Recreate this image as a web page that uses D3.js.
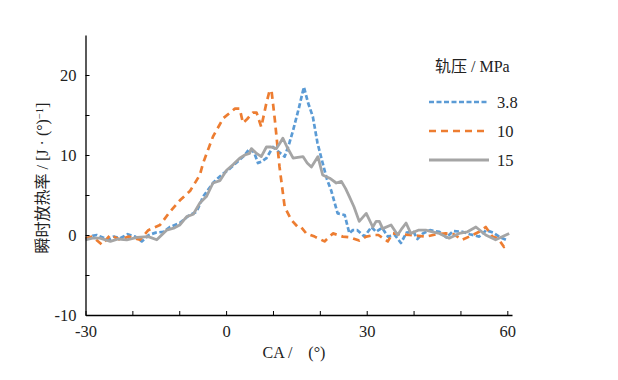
<!DOCTYPE html>
<html><head><meta charset="utf-8">
<script src="https://cdn.jsdelivr.net/npm/d3@7"></script>
<style>
html,body{margin:0;padding:0;background:#fff;}
text{font-family:"Liberation Serif","Times New Roman","Noto Sans CJK SC",serif;fill:#222;}
</style></head>
<body><svg id="c" width="618" height="380"></svg>
<script>
// ---- data ----
const xTickLabels = [-30, 0, 30, 60];
const yTickLabels = [-10, 0, 10, 20];
const seriesNames = ["3.8", "10", "15"];

const ca38 = [-30,-28.5,-27.6,-25.1,-24,-22.6,-21,-19.4,-18,-16.5,-15,-13.4,-12,-9.9,-8,-6.3,-4.9,-2.8,-1,0.8,2.5,4,5,6,6.8,7.6,8.6,10,11,12.5,13.5,14.3,15.5,16.6,17.5,18.5,19.5,20.6,21.5,22.4,23.8,25.3,26.3,27,28,29.5,31,32,33.3,34.5,36,37.3,38.5,40,40.8,42,43.5,45.5,47,48.5,50.4,52,54,55.5,57,58.5,59.7];
const hr38 = [-0.5,-0.1,0,-0.6,-0.2,-0.4,0.1,-0.2,-0.8,0,0.3,0.4,1.0,1.5,2.4,2.9,4.8,6.5,7.5,8.3,9.2,10.0,10.8,10.3,9.0,9.2,9.6,11.0,10.5,9.8,11.5,13.1,15.8,18.5,16.5,14.8,11.5,9.0,7.0,5.6,2.7,2.5,0.2,0.6,0.6,-0.2,1.0,0.4,0.9,-0.2,0,-1.0,0.3,0.4,-0.5,0.2,0.6,0.4,-0.3,0.5,0.4,0.1,-0.2,0.6,0.3,-0.3,-0.6];

const ca10 = [-30,-28.5,-26.5,-24.7,-22.6,-20.8,-18.4,-16.6,-14.1,-12,-9.9,-7.7,-5.6,-4.9,-2.8,-0.6,1.9,2.9,3.6,4.5,5.7,6.5,7.5,8.6,9.3,9.7,10.4,11.4,12.5,13.9,15.3,16,17.1,18.9,21,22.8,24.9,26.5,28.4,29.9,31.6,32.5,34.5,35.5,37,39.1,41,42.6,45,46.9,48.5,50.4,52.6,54,55.4,56.8,58,59.3,60];
const hr10 = [-0.4,-0.2,-1.2,0,-0.6,-0.2,-0.6,0.6,1.25,2.9,4.3,5.5,7.5,9.0,12.3,14.6,15.8,15.8,14.0,14.5,15.3,15.3,13.5,16.5,18.1,18.0,14.4,8.5,3.5,1.9,1.0,1.0,0.2,-0.2,-0.8,0.2,-0.2,-0.3,-0.7,-0.2,0,0,-0.8,0.2,0.1,0,-0.1,-0.2,0.1,0.2,0.1,-0.6,0,0.4,1.0,-0.2,-0.4,-1.5,-1.0];

const ca15 = [-30,-28.5,-26.9,-24.7,-23,-21.2,-19,-16.6,-14.8,-12.7,-11,-9.9,-8.4,-7,-5.6,-4.2,-2.8,-1.3,0.1,1.5,2.9,4,5.0,5.4,6.5,7.5,8.6,9.6,10.7,11.5,12.1,13,14.3,15.3,16.4,17.3,18.2,19.6,20.6,22.1,23.5,24.6,25.5,26.3,27.3,28.4,29.9,31.3,32,32.7,33.4,35.2,36.6,37.5,38.4,39.4,41,42.6,44,45.5,47.6,49.7,51.5,53.3,55.4,57.5,59,60.4];
const hr15 = [-0.6,-0.4,-0.4,-0.8,-0.5,-0.6,-0.3,-0.2,-0.6,0.6,0.9,1.25,2.3,2.6,4.0,4.8,6.5,6.8,8.1,8.8,9.6,10.0,10.2,10.8,10.2,9.8,11.0,11.0,10.8,11.5,12.1,11.0,9.6,9.7,9.8,9.0,8.5,9.8,7.5,7.1,6.5,6.7,5.8,4.8,3.5,1.7,2.7,1.0,1.7,1.7,0.8,1.25,0,0.8,1.5,0.2,0.6,0.6,0.4,0.2,-0.4,0.2,0.4,1.0,0,-0.6,-0.2,0.2];

// ---- drawing ----
const svg = d3.select("#c");
const x = d3.scaleLinear().domain([-30, 61]).range([85.5, 512]);
const y = d3.scaleLinear().domain([-10, 25]).range([315, 35]);

const styles = [
  {color:"#5b9bd5", dash:"5,2.5", w:2.7},
  {color:"#ed7d31", dash:"7,5", w:2.7},
  {color:"#a5a5a5", dash:null, w:2.8}
];
const series = [
  d3.zip(ca38, hr38),
  d3.zip(ca10, hr10),
  d3.zip(ca15, hr15)
];

const line = d3.line().x(d => x(d[0])).y(d => y(d[1]));
series.forEach((s, i) => {
  const p = svg.append("path").datum(s).attr("d", line)
    .attr("fill", "none").attr("stroke", styles[i].color)
    .attr("stroke-width", styles[i].w).attr("stroke-linejoin", "round");
  if (styles[i].dash) p.attr("stroke-dasharray", styles[i].dash);
});

// axes
const xAxis = d3.axisBottom(x).tickValues(d3.range(-30, 61, 10))
  .tickSizeInner(-4).tickSizeOuter(0)
  .tickFormat(d => xTickLabels.includes(d) ? d : "");
const gx = svg.append("g").attr("transform", `translate(0,${y(-10)})`).call(xAxis);
gx.select(".domain").attr("stroke", "#000").attr("stroke-width", 1.3);
gx.selectAll(".tick line").attr("stroke", "#000");
gx.selectAll(".tick text").attr("dy", null).attr("y", 22)
  .style("font-size", "16.5px").attr("fill", "#222");

const yAxis = d3.axisLeft(y).tickValues(d3.range(-10, 26, 5))
  .tickSizeInner(-4).tickSizeOuter(0)
  .tickFormat(d => yTickLabels.includes(d) ? d : "");
const gy = svg.append("g").attr("transform", `translate(${x(-30)},0)`).call(yAxis);
gy.select(".domain").attr("stroke", "#000").attr("stroke-width", 1.3);
gy.selectAll(".tick line").attr("stroke", "#000");
gy.selectAll(".tick text").attr("x", -9).attr("dy", "0.36em")
  .style("font-size", "16.5px").attr("fill", "#222");
gy.selectAll(".tick").filter(d => d === 25).select("line").remove();

// axis titles
svg.append("text").attr("x", 294).attr("y", 358).attr("text-anchor", "middle")
  .style("font-size", "16px").text("CA /\u00a0\u00a0\u00a0 (°)");

const yl = svg.append("text").attr("transform", "translate(48,178) rotate(-90)")
  .attr("text-anchor", "middle").style("font-size", "16px");
yl.append("tspan").text("瞬时放热率 / [J · (°)");
yl.append("tspan").attr("dy", -5).style("font-size", "10.5px").text("−1");
yl.append("tspan").attr("dy", 5).text("]");

// legend
svg.append("text").attr("x", 435).attr("y", 72).style("font-size", "16px").text("轨压 / MPa");
seriesNames.forEach((n, i) => {
  const ly = 102 + i * 29;
  const l = svg.append("line").attr("x1", 429).attr("x2", 489).attr("y1", ly).attr("y2", ly)
    .attr("stroke", styles[i].color).attr("stroke-width", styles[i].w);
  if (styles[i].dash) l.attr("stroke-dasharray", styles[i].dash);
  svg.append("text").attr("x", 497).attr("y", ly + 5.5).style("font-size", "16.5px").text(n);
});
</script></body></html>
